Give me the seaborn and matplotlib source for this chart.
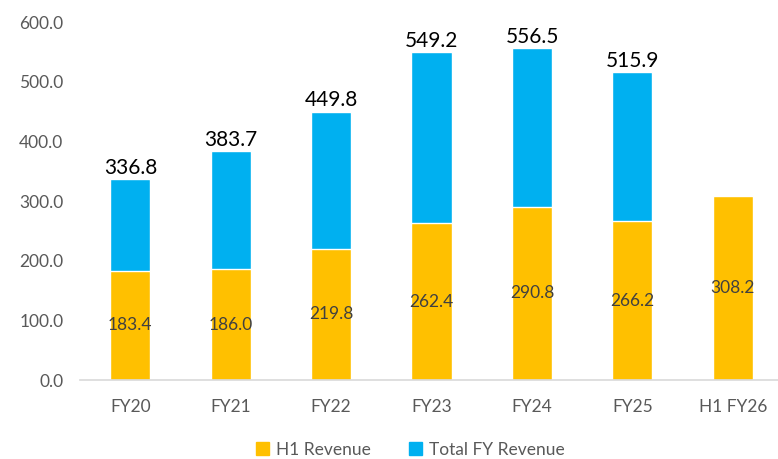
import matplotlib
matplotlib.use("Agg")
import matplotlib.pyplot as plt
import seaborn as sns
import numpy as np
import pandas as pd
from matplotlib.patches import Patch

categories = ["FY20", "FY21", "FY22", "FY23", "FY24", "FY25", "H1 FY26"]
h1_revenue = [183.4, 186.0, 219.8, 262.4, 290.8, 266.2, 308.2]
total_fy_revenue = [336.8, 383.7, 449.8, 549.2, 556.5, 515.9, np.nan]
y_ticks = [0, 100, 200, 300, 400, 500, 600]

sns.set_theme(style="white")
plt.rcParams["font.family"] = ["Lato", "DejaVu Sans"]

df = pd.DataFrame({"cat": categories, "h1": h1_revenue, "total": total_fy_revenue})

fig = plt.figure(figsize=(7.78, 4.59), dpi=100)
ax = fig.add_axes([0.103, 0.172, 0.897, 0.78])

blue = "#00B0F0"
orange = "#FFC000"

sns.barplot(data=df, x="cat", y="total", color=blue, width=0.4, ax=ax,
            saturation=1, errorbar=None)
sns.barplot(data=df, x="cat", y="h1", color=orange, width=0.4, ax=ax,
            saturation=1, errorbar=None)

for i, (h, t) in enumerate(zip(h1_revenue, total_fy_revenue)):
    ax.text(i, h / 2, f"{h:.1f}", ha="center", va="center", fontsize=12.5, color="#404040")
    if not np.isnan(t):
        ax.text(i, t + 2, f"{t:.1f}", ha="center", va="bottom", fontsize=15, color="black")

ax.set_ylim(0, 600)
ax.set_xlim(-0.5, 6.45)
ax.set_yticks(y_ticks)
ax.set_yticklabels([f"{v:.1f}" for v in y_ticks], fontsize=12.5, color="#595959")
ax.tick_params(axis="x", labelsize=12.5, labelcolor="#595959", length=0, pad=14)
ax.tick_params(axis="y", length=0, pad=12)
ax.set_xlabel("")
ax.set_ylabel("")
for s in ["top", "right", "left"]:
    ax.spines[s].set_visible(False)
ax.spines["bottom"].set_color("#D9D9D9")
ax.spines["bottom"].set_linewidth(1.2)

handles = [Patch(color=orange, label="H1 Revenue"), Patch(color=blue, label="Total FY Revenue")]
fig.legend(handles=handles, loc="center", bbox_to_anchor=(0.527, 0.02), ncol=2,
           frameon=False, fontsize=12.5, labelcolor="#595959", handlelength=0.75,
           handleheight=0.75, columnspacing=2.2, handletextpad=0.4)

fig.savefig("out.png", dpi=100)
